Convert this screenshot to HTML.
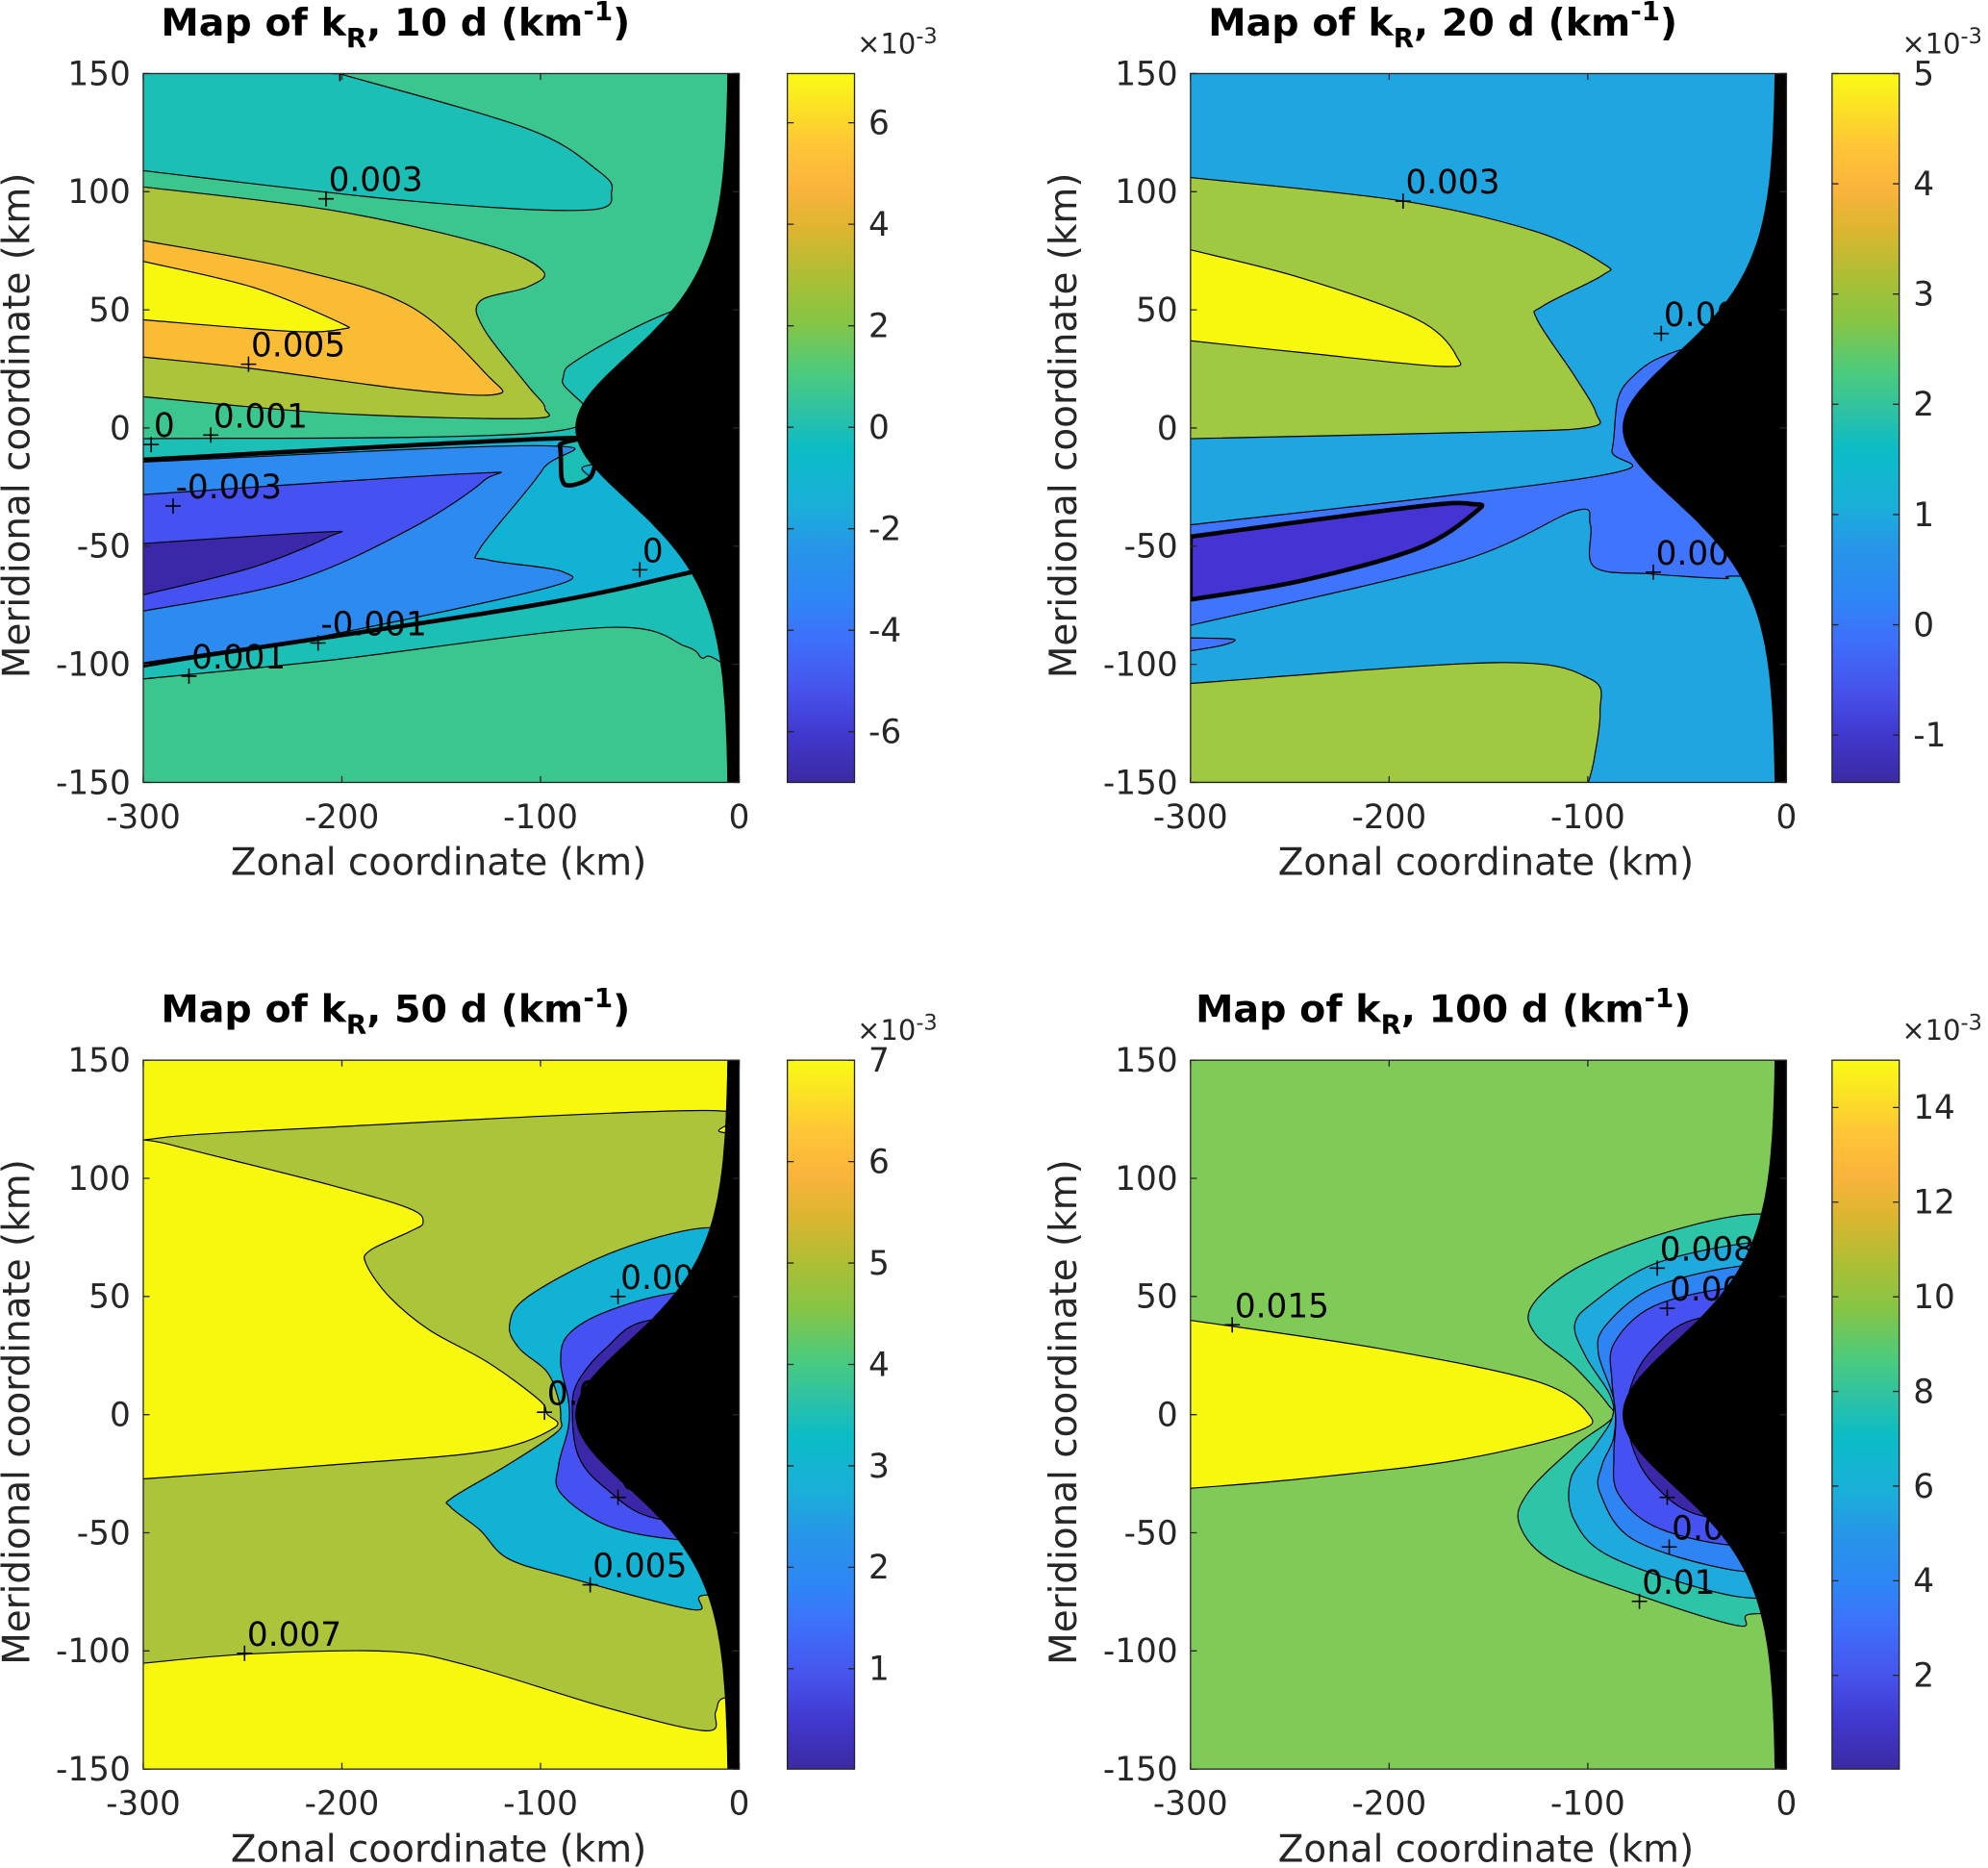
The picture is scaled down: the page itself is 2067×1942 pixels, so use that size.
<!DOCTYPE html>
<html><head><meta charset="utf-8">
<style>
html,body{margin:0;padding:0;background:#fff;}
svg{display:block;}
text{font-family:"DejaVu Sans","Liberation Sans",sans-serif;fill:#262626;}
</style></head>
<body>
<svg id="fig" width="2067" height="1942" viewBox="0 0 1568 1473" preserveAspectRatio="none" xmlns="http://www.w3.org/2000/svg">
<defs>
<linearGradient id="parula" x1="0" y1="1" x2="0" y2="0">
<stop offset="0" stop-color="#3b2aa2"/><stop offset="0.07" stop-color="#4139d0"/><stop offset="0.13" stop-color="#4653ec"/>
<stop offset="0.2" stop-color="#3e6ffc"/><stop offset="0.26" stop-color="#2e86f5"/><stop offset="0.33" stop-color="#2795e8"/>
<stop offset="0.39" stop-color="#1aafd9"/><stop offset="0.47" stop-color="#0bbcc6"/><stop offset="0.52" stop-color="#2cc1a6"/>
<stop offset="0.58" stop-color="#4ccb7b"/><stop offset="0.65" stop-color="#86c544"/><stop offset="0.71" stop-color="#aabf35"/>
<stop offset="0.78" stop-color="#dcb530"/><stop offset="0.84" stop-color="#fbb43c"/><stop offset="0.9" stop-color="#fec636"/>
<stop offset="1" stop-color="#f9fb14"/>
</linearGradient>
</defs>
</svg>
<script>
// ---- data (km coordinates of filled contour regions) ----
const xTicks=[-300,-200,-100,0];
const yTicks=[150,100,50,0,-50,-100,-150];
const titles=["10 d","20 d","50 d","100 d"];
const cbMin=[-7,-1.43,0.01,0.02];
const cbMax=[6.97,5,7,15];
const cbTicks=[[6,4,2,0,-2,-4,-6],[5,4,3,2,1,0,-1],[7,6,5,4,3,2,1],[14,12,10,8,6,4,2]];
const bgColors=["#3cc68f","#1fa5e0","#f8f80f","#80ca58"];
const maskDepth=[77,77,77,77];
const maskScale=[46,46,46,46];

// panel 1 regions
const p1Teal=[[-300,150],[-201.6,150],[-106.7,126.7],[-71.1,108.9],[-64.2,100.1],[-77,92.2],[-166,96.1],[-300,108.9]];
const p1Olive=[[-300,102],[-205.5,92.2],[-126.5,77.4],[-98.8,66.5],[-106.7,59.6],[-130.4,53.7],[-128.5,41.9],[-106.7,18.2],[-97.8,8.3],[-106.7,4],[-205.5,6.3],[-300,13.2]];
const p1Orange=[[-300,79.3],[-225.3,67.5],[-166,51.7],[-126.5,22.1],[-122.5,14.2],[-166,16.2],[-245.1,25.1],[-300,30]];
const p1Yellow=[[-300,70.5],[-245.1,59.6],[-201.6,44.8],[-199.6,41.9],[-225.3,40.9],[-300,45.8]];
const p1TealMid=[[-300,-4.5],[-91,-1.2],[-89,20.1],[-81,29.1],[-37.5,48.2],[10,60],[10,-60.8],[-23,-60.8],[-300,-13.4]];
const p1TealLow=[[-300,-100.1],[-23.2,-60.8],[10,-60.8],[10,-110],[-12.9,-97.3],[-18.8,-97.3],[-27,-92.4],[-66.8,-84.4],[-205.5,-98.2],[-300,-106.2]];
const p1Cyan=[[-300,-13.4],[-95.3,-4.5],[-90.3,-7.5],[-89.3,-21.3],[-85.4,-24.3],[-75.5,-21.3],[-72.5,-15.4],[10,-15.4],[10,-60.8],[-23.2,-60.8],[-106.7,-75.5],[-300,-100.1]];
const p1Blue=[[-300,-14.4],[-98.8,-7.5],[-98.8,-17.4],[-130.4,-50.9],[-126.5,-55.8],[-88.9,-60.8],[-96.8,-67.7],[-205.5,-87.4],[-300,-101.2]];
const p1Purple=[[-300,-28.2],[-136.4,-19.3],[-128.5,-22.2],[-166,-42.9],[-225.3,-65],[-300,-77.5]];
const p1Indigo=[[-300,-48.9],[-209.5,-44],[-206.5,-46],[-245,-59],[-300,-70.6]];
const p1Zero1=[[-300,-13.4],[-95.3,-4.5],[-90.3,-7.5],[-89.3,-21.3],[-85.4,-24.3],[-75.5,-21.3],[-72.5,-15.4]];
const p1Zero2=[[-300,-100.1],[-106.7,-75.5],[-23.2,-60.8]];

// panel 2 regions
const p2GreenTop=[[-300,106],[-193.4,96.1],[-126.4,83.2],[-91.9,69.4],[-92.9,64.5],[-122.5,51.7],[-125.4,45.8],[-106.7,22.1],[-95.8,6.3],[-98.8,0.4],[-146.1,-1.6],[-300,-4.5]];
const p2Yellow=[[-300,75.4],[-244.7,63.6],[-185.5,45.8],[-165.8,30],[-173.7,26.1],[-244.7,32],[-300,36.9]];
const p2Blue=[[-300,-41],[-94.7,-20.3],[-87.8,-9.4],[-84.8,12.3],[-76.9,22.1],[-63.1,30],[-39.5,34.9],[12,34.9],[12,-62.7],[-27.6,-62.7],[-31.5,-63.7],[-67,-61.8],[-96.7,-58.8],[-98.7,-41],[-106.6,-35.1],[-165.8,-56.8],[-300,-83.5]];
const p2Indigo=[[-300,-46],[-185.5,-33.2],[-157.9,-32.2],[-155.9,-35.1],[-185.5,-50.9],[-244.7,-64.7],[-300,-72.6]];
const p2Sliver=[[-300,-88.8],[-278.3,-89.4],[-284.2,-92],[-300,-94.3]];
const p2GreenLow=[[-300,-108.1],[-146.1,-99.3],[-98.7,-106.2],[-93.8,-120],[-96.7,-139.7],[-99.7,-150],[-300,-150]];

// panel 3 regions
const p3Olive=[[-9.9,119.8],[-16.8,128.7],[-225.3,120.8],[-294.5,116.8],[-284.6,113.9],[-205.5,97.1],[-166,87.2],[-159.1,81.3],[-166,77.4],[-185.8,69.5],[-187.7,63.6],[-175.9,49.7],[-156.1,35.9],[-126.5,22.1],[-100.8,6.3],[-96.8,0.4],[-92.9,-5.5],[-126.5,-15.4],[-205.5,-21.3],[-300,-27.2],[-300,-105.2],[-245.1,-101.2],[-175.9,-100.2],[-136.4,-106.2],[-67.2,-123.9],[-16.8,-133.8],[-11.9,-125.9],[-7.9,-120],[10,-120],[10,119.8]];
const p3Cyan=[[-23.7,78.4],[-67.2,67.5],[-106.7,49.7],[-115.6,37.9],[-110.7,28],[-96.8,18.2],[-90.9,6.3],[-89.9,-1.6],[-91.9,-7.5],[-116.6,-21.3],[-144.3,-35.1],[-145.3,-39.1],[-130.4,-48.9],[-116.6,-60.8],[-87,-68.7],[-23.7,-82.5],[-18.8,-76.6],[10,-76.6],[10,78.4]];
const p3Purple=[[-30.6,51.7],[-66.2,43.8],[-86,33.9],[-89.9,22.1],[-86,6.3],[-86,-5.5],[-90.9,-21.3],[-89.9,-33.2],[-66.2,-47],[-30.6,-52.9],[10,-52.9],[10,51.7]];
const p3Indigo=[[-45.5,39.9],[-67.2,28],[-81,14.2],[-84,2.4],[-81,-17.4],[-67.2,-31.2],[-41.5,-44],[10,-44],[10,39.9]];

// panel 4 regions
const p4Yellow=[[-300,39.9],[-205.3,28],[-126.3,14.2],[-99.7,0.4],[-106.6,-7.5],[-165.8,-19.3],[-244.7,-27.2],[-300,-31.2]];
const p4Teal=[[-23.7,84.3],[-67.1,75.4],[-106.6,61.6],[-128.3,45.8],[-126.3,34],[-106.6,20.1],[-89.8,4.3],[-87.8,-1.6],[-106.6,-13.4],[-130.3,-33.2],[-134.2,-47],[-116.5,-62.7],[-67.1,-78.5],[-23.7,-89.4],[-18.8,-84.5],[10,-84.5],[10,84.3]];
const p4Light=[[-21.7,72.4],[-67.1,63.6],[-96.7,47.8],[-106.6,37.9],[-100.7,24.1],[-88.8,8.3],[-87.8,-1.6],[-96.7,-13.4],[-108.6,-27.2],[-106.6,-45],[-86.9,-60.8],[-27.6,-76.6],[10,-76.6],[10,72.4]];
const p4Blue=[[-25.7,62.6],[-67.1,53.7],[-90.8,37.9],[-94.7,26.1],[-86.9,6.3],[-86.9,-9.5],[-92.8,-21.3],[-93.8,-33.1],[-77,-52.9],[-27.6,-65.7],[10,-65.7],[10,62.6]];
const p4Purple=[[-27.6,53.7],[-67.1,45.8],[-86.9,30],[-87.8,14.2],[-85.9,-1.6],[-86.9,-17.4],[-84.9,-33.1],[-67.1,-47],[-31.6,-54.9],[10,-54.9],[10,53.7]];
const p4Indigo=[[-43.4,40.9],[-67.1,28],[-78.9,10.3],[-78.9,-9.5],[-67.1,-29.2],[-41.5,-43],[10,-43],[10,40.9]];

const regions=[
 [[p1Teal,"#1bbfb5","teal-top"],[p1Olive,"#abc43a","olive-band"],[p1Orange,"#fbbc35","orange-band"],[p1Yellow,"#f8f80f","yellow-core"],[p1TealMid,"#1bbfb5","teal-mid"],[p1TealLow,"#1bbfb5","teal-low"],[p1Cyan,"#12b2d4","cyan-region"],[p1Blue,"#2d8af0","blue-band"],[p1Purple,"#4551f0","purple-band"],[p1Indigo,"#3b28a8","indigo-core"]],
 [[p2GreenTop,"#a0c840","green-top"],[p2Yellow,"#f8f80f","yellow-core"],[p2Blue,"#3f74fe","blue-region"],[p2Indigo,"#4633d4","indigo-core"],[p2Sliver,"#3f74fe","blue-sliver"],[p2GreenLow,"#a0c840","green-low"]],
 [[p3Olive,"#abc43a","olive-region"],[p3Cyan,"#12b2d4","cyan-region"],[p3Purple,"#4551f0","purple-region"],[p3Indigo,"#3b28a8","indigo-core"]],
 [[p4Yellow,"#f8f80f","yellow-core"],[p4Teal,"#2dc4a8","teal-region"],[p4Light,"#1eaadc","light-blue-region"],[p4Blue,"#2e84f2","blue-region"],[p4Purple,"#4551f0","purple-region"],[p4Indigo,"#3b28a8","indigo-core"]]
];
const thickLines=[[[p1Zero1,false],[p1Zero2,false]],[[p2Indigo,true]],[],[]];
const labels=[
 [["0.001",-201,150],["0.003",-208,97],["0.005",-247,27],["0.001",-266,-3],["0",-296,-7],["-0.003",-285,-33],["0",-50,-60],["-0.001",-212,-91],["0.001",-277,-105]],
 [["0.003",-193,96],["0.00",-63,40],["0.00",-67,-61]],
 [["0.00",-61,50],["0.0",-98,1],["0",-61,-35],["0.005",-75,-72],["0.007",-249,-101]],
 [["0.015",-279,38],["0.008",-65,62],["0.00",-60,45],["0.0",-60,-35],["0.00",-59,-56],["0.01",-74,-79]]
];
// ---- layout ----
const panels=[{x0:113,y0:58,cb:621},{x0:939,y0:58,cb:1445},{x0:113,y0:836,cb:621},{x0:939,y0:836,cb:1445}];
const W=470,H=559;
const NS="http://www.w3.org/2000/svg";
const svg=document.getElementById('fig');
function mk(tag,attrs,parent){const e=document.createElementNS(NS,tag);for(const k in attrs)e.setAttribute(k,attrs[k]);(parent||svg).appendChild(e);return e;}
function hard(p){return p[0]<=-300||p[0]>=10||p[1]>=150||p[1]<=-150;}
function smoothPath(pts,sx,sy,closed){
  const n=pts.length;const P=pts.map(p=>[sx(p[0]),sy(p[1])]);
  let d='M'+P[0][0].toFixed(1)+','+P[0][1].toFixed(1);
  const segs=closed?n:n-1;
  for(let k=0;k<segs;k++){
    const i1=k,i2=(k+1)%n;
    const i0=closed?(k-1+n)%n:Math.max(0,k-1);
    const i3=closed?(k+2)%n:Math.min(n-1,k+2);
    const a=P[i1],b=P[i2];
    if(hard(pts[i1])&&hard(pts[i2])){d+='L'+b[0].toFixed(1)+','+b[1].toFixed(1);continue;}
    const p0=hard(pts[i1])?a:P[i0], p3=hard(pts[i2])?b:P[i3];
    const c1=[a[0]+(b[0]-p0[0])/6,a[1]+(b[1]-p0[1])/6];
    const c2=[b[0]-(p3[0]-a[0])/6,b[1]-(p3[1]-a[1])/6];
    d+='C'+c1[0].toFixed(1)+','+c1[1].toFixed(1)+' '+c2[0].toFixed(1)+','+c2[1].toFixed(1)+' '+b[0].toFixed(1)+','+b[1].toFixed(1);
  }
  return d+(closed?'Z':'');
}
panels.forEach((P,i)=>{
  const sx=x=>P.x0+(x+300)/300*W;
  const sy=y=>P.y0+(150-y)/300*H;
  const g=mk('g',{});
  
  
  const cid='clip'+i;
  const cp=mk('clipPath',{id:cid},g);mk('rect',{x:P.x0,y:P.y0,width:W,height:H},cp);
  const plot=mk('g',{'clip-path':'url(#'+cid+')'},g);
  
  
  const bg=mk('rect',{x:P.x0,y:P.y0,width:W,height:H,fill:bgColors[i]},plot);
  
  
  regions[i].forEach(r=>{
    const e=mk('path',{d:smoothPath(r[0],sx,sy,true),fill:r[1],stroke:'#000','stroke-width':0.9,'stroke-linejoin':'round'},plot);
    
    
  });
  thickLines[i].forEach(l=>{
    const e=mk('path',{d:smoothPath(l[0],sx,sy,l[1]),fill:'none',stroke:'#000','stroke-width':3.5,'stroke-linejoin':'round'},plot);
    
    
  });
  let md='M'+sx(10)+','+sy(152);
  for(let y=152;y>=-152;y-=2){const c=Math.cosh(y/maskScale[i]);const xb=-5.5-maskDepth[i]/(c*c);md+='L'+sx(xb).toFixed(1)+','+sy(y).toFixed(1);}
  md+='L'+sx(10)+','+sy(-152)+'Z';
  const m=mk('path',{d:md,fill:'#000'},plot);
  
  
  labels[i].forEach(L=>{
    const X=sx(L[1]),Y=sy(L[2]);
    const pl=mk('path',{d:`M${X-6},${Y}h12M${X},${Y-6}v12`,stroke:'#000','stroke-width':1.2},plot);
    
    
    const t=mk('text',{x:X+2,y:Y-6,'font-size':26,style:'fill:#000'},plot);
    t.textContent=L[0];
    
    
  });
  const fr=mk('rect',{x:P.x0,y:P.y0,width:W,height:H,fill:'none',stroke:'#262626','stroke-width':1},g);
  
  
  xTicks.forEach(v=>{
    const X=sx(v);
    mk('path',{d:`M${X},${P.y0+H}v-5M${X},${P.y0}v5`,stroke:'#262626','stroke-width':1},g);
    const t=mk('text',{x:X,y:P.y0+H+36,'font-size':26,'text-anchor':'middle'},g);
    t.textContent=String(v);
    
    
  });
  yTicks.forEach(v=>{
    const Y=sy(v);
    mk('path',{d:`M${P.x0},${Y}h5M${P.x0+W},${Y}h-5`,stroke:'#262626','stroke-width':1},g);
    const t=mk('text',{x:P.x0-10,y:Y+9,'font-size':26,'text-anchor':'end'},g);
    t.textContent=String(v);
    
    
  });
  const xl=mk('text',{x:P.x0+W/2-2,y:P.y0+H+73,'font-size':29.5,'text-anchor':'middle'},g);
  xl.textContent='Zonal coordinate (km)';
  
  
  const ym=P.y0+H/2-2, yx=P.x0-90;
  const yl=mk('text',{x:yx,y:ym,'font-size':29.5,'text-anchor':'middle',transform:`rotate(-90 ${yx} ${ym})`},g);
  yl.textContent='Meridional coordinate (km)';
  
  
  const tt=mk('text',{x:P.x0+14+(i==3?-10:0),y:P.y0-30,'font-size':30,'font-weight':'bold',style:'fill:#000'},g);
  tt.innerHTML='Map of k<tspan font-size="21" dy="9">R</tspan><tspan dy="-9">, '+titles[i]+' (km</tspan><tspan font-size="21" dy="-12">-1</tspan><tspan dy="12">)</tspan>';
  
  
  const cb=mk('rect',{x:P.cb,y:P.y0,width:53,height:H,fill:'url(#parula)',stroke:'#262626','stroke-width':1},g);
  
  
  const cy=v=>P.y0+(cbMax[i]-v)/(cbMax[i]-cbMin[i])*H;
  cbTicks[i].forEach(v=>{
    const Y=cy(v);
    mk('path',{d:`M${P.cb},${Y}h5M${P.cb+53},${Y}h-5`,stroke:'#262626','stroke-width':1},g);
    const t=mk('text',{x:P.cb+64,y:Y+9,'font-size':26},g);
    t.textContent=String(v);
    
    
  });
  const ex=mk('text',{x:P.cb+55,y:P.y0-16,'font-size':22},g);
  ex.innerHTML='×10<tspan font-size="17" dy="-8">-3</tspan>';
  
  
});
</script>
</body></html>
